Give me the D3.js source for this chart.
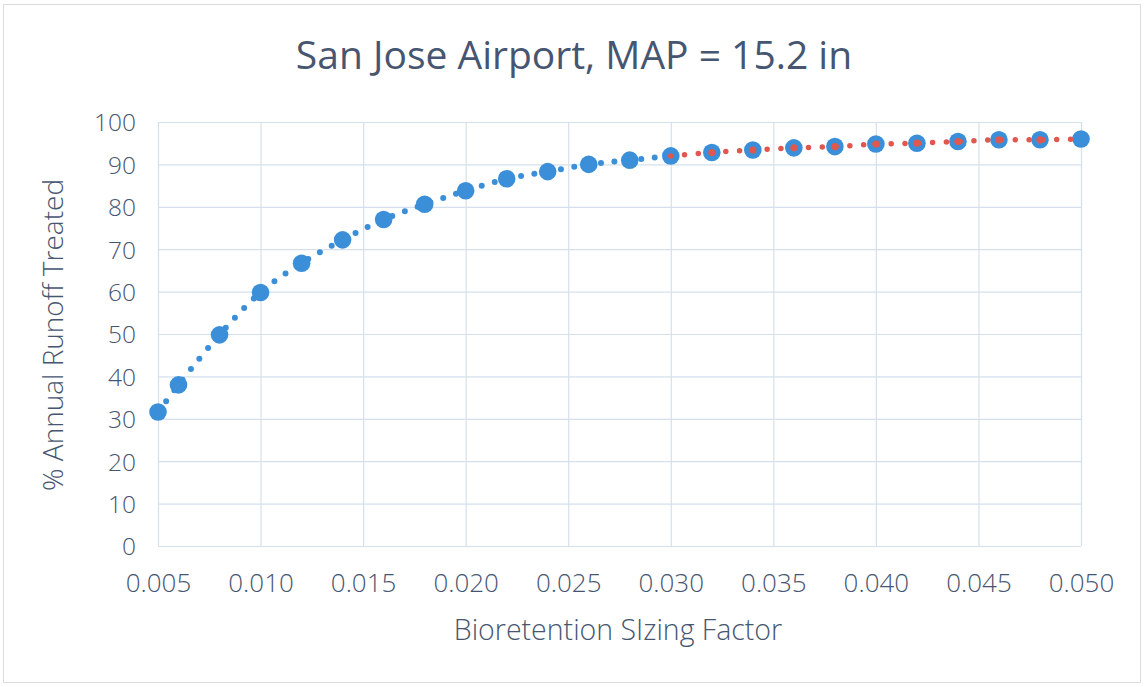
<!DOCTYPE html>
<html>
<head>
<meta charset="utf-8">
<script src="https://cdn.jsdelivr.net/npm/d3@7"></script>
<style>
  html, body { margin: 0; padding: 0; background: #fff; }
  svg { display: block; }
  text { font-family: "Open Sans", Lato, sans-serif; }
</style>
</head>
<body>
<svg id="chart" width="1144" height="687"></svg>
<script>
// Sizing factor vs. percent of annual runoff treated
const sizingFactor = [0.005, 0.006, 0.008, 0.010, 0.012, 0.014, 0.016, 0.018, 0.020, 0.022,
                      0.024, 0.026, 0.028, 0.030, 0.032, 0.034, 0.036, 0.038, 0.040, 0.042,
                      0.044, 0.046, 0.048, 0.050];
const pctTreated = [31.6, 38.0, 49.8, 59.8, 66.7, 72.2, 77.0, 80.6, 83.8, 86.6,
                    88.3, 90.0, 91.0, 92.0, 92.8, 93.4, 93.9, 94.2, 94.8, 95.0,
                    95.4, 95.8, 95.8, 96.0];
// Upper range (0.030 and above) highlighted as its own series
const upperFactor = [0.030, 0.032, 0.034, 0.036, 0.038, 0.040, 0.042, 0.044, 0.046, 0.048, 0.050];
const upperPct = [92.0, 92.8, 93.4, 93.9, 94.2, 94.8, 95.0, 95.4, 95.8, 95.8, 96.0];

const xTicks = [0.005, 0.010, 0.015, 0.020, 0.025, 0.030, 0.035, 0.040, 0.045, 0.050];
const yTicks = [0, 10, 20, 30, 40, 50, 60, 70, 80, 90, 100];

const titleText = "San Jose Airport, MAP = 15.2 in";
const xTitle = "Bioretention SIzing Factor";
const yTitle = "% Annual Runoff Treated";

const svg = d3.select("#chart");
const plot = { left: 158, right: 1081, top: 122, bottom: 546 };

const textColor = "#475670";
const gridColor = "#d6e0ec";
const blue = "#3b8fd8";
const red = "#e0574e";
const font = "'Open Sans', Lato, sans-serif";

// outer chart frame
svg.append("rect")
  .attr("x", 3.5).attr("y", 4.5).attr("width", 1137).attr("height", 678)
  .attr("fill", "#fff").attr("stroke", "#dcdcdc").attr("stroke-width", 1);

const x = d3.scaleLinear().domain([0.005, 0.050]).range([plot.left, plot.right]);
const y = d3.scaleLinear().domain([0, 100]).range([plot.bottom, plot.top]);

// gridlines
const gx = svg.append("g").attr("transform", `translate(0,${plot.bottom})`)
  .call(d3.axisBottom(x).tickValues(xTicks).tickSize(-(plot.bottom - plot.top)).tickFormat(""));
const gy = svg.append("g").attr("transform", `translate(${plot.left},0)`)
  .call(d3.axisLeft(y).tickValues(yTicks).tickSize(-(plot.right - plot.left)).tickFormat(""));
[gx, gy].forEach(g => {
  g.select(".domain").remove();
  g.selectAll(".tick line").attr("stroke", gridColor).attr("stroke-width", 1.2);
});

// tick labels
const xl = svg.append("g").attr("transform", `translate(0,${plot.bottom})`)
  .call(d3.axisBottom(x).tickValues(xTicks).tickSize(0).tickPadding(0).tickFormat(d3.format(".3f")));
const yl = svg.append("g").attr("transform", `translate(${plot.left},0)`)
  .call(d3.axisLeft(y).tickValues(yTicks).tickSize(0).tickPadding(22).tickFormat(d3.format("d")));
[xl, yl].forEach(g => {
  g.select(".domain").remove();
  g.selectAll("text").attr("fill", textColor)
    .style("font-family", font).style("font-weight", 300);
});
xl.selectAll("text").attr("font-size", 26).attr("y", 46).attr("dy", null);
yl.selectAll("text").attr("font-size", 24.5).attr("dy", "0.36em");

// series lines (round-dotted)
const line = d3.line().x(d => x(d[0])).y(d => y(d[1])).curve(d3.curveMonotoneX);
const blueData = sizingFactor.map((v, i) => [v, pctTreated[i]]);
const redData = upperFactor.map((v, i) => [v, upperPct[i]]);
const blueLineData = blueData.filter(d => d[0] <= upperFactor[0] + 1e-9);

svg.append("path").datum(blueLineData).attr("d", line)
  .attr("fill", "none").attr("stroke", blue).attr("stroke-width", 6)
  .attr("stroke-linecap", "round").attr("stroke-dasharray", "0 13.5");

svg.append("g").selectAll("circle").data(blueData).join("circle")
  .attr("cx", d => x(d[0])).attr("cy", d => y(d[1])).attr("r", 8.8).attr("fill", blue);

svg.append("path").datum(redData).attr("d", line)
  .attr("fill", "none").attr("stroke", red).attr("stroke-width", 5.5)
  .attr("stroke-linecap", "round").attr("stroke-dasharray", "0 13.8");

svg.append("g").selectAll("circle").data(redData.slice(1, -1)).join("circle")
  .attr("cx", d => x(d[0])).attr("cy", d => y(d[1])).attr("r", 3.6).attr("fill", red);

// titles
svg.append("text").attr("x", 574).attr("y", 69)
  .attr("text-anchor", "middle").attr("fill", textColor).attr("font-size", 39)
  .style("font-weight", 400)
  .text(titleText);

svg.append("text").attr("x", 618).attr("y", 640)
  .attr("text-anchor", "middle").attr("fill", textColor).attr("font-size", 28.5)
  .style("font-weight", 300)
  .text(xTitle);

svg.append("text").attr("transform", `translate(63,335) rotate(-90)`)
  .attr("text-anchor", "middle").attr("fill", textColor).attr("font-size", 28)
  .style("font-weight", 300)
  .text(yTitle);
</script>
</body>
</html>
